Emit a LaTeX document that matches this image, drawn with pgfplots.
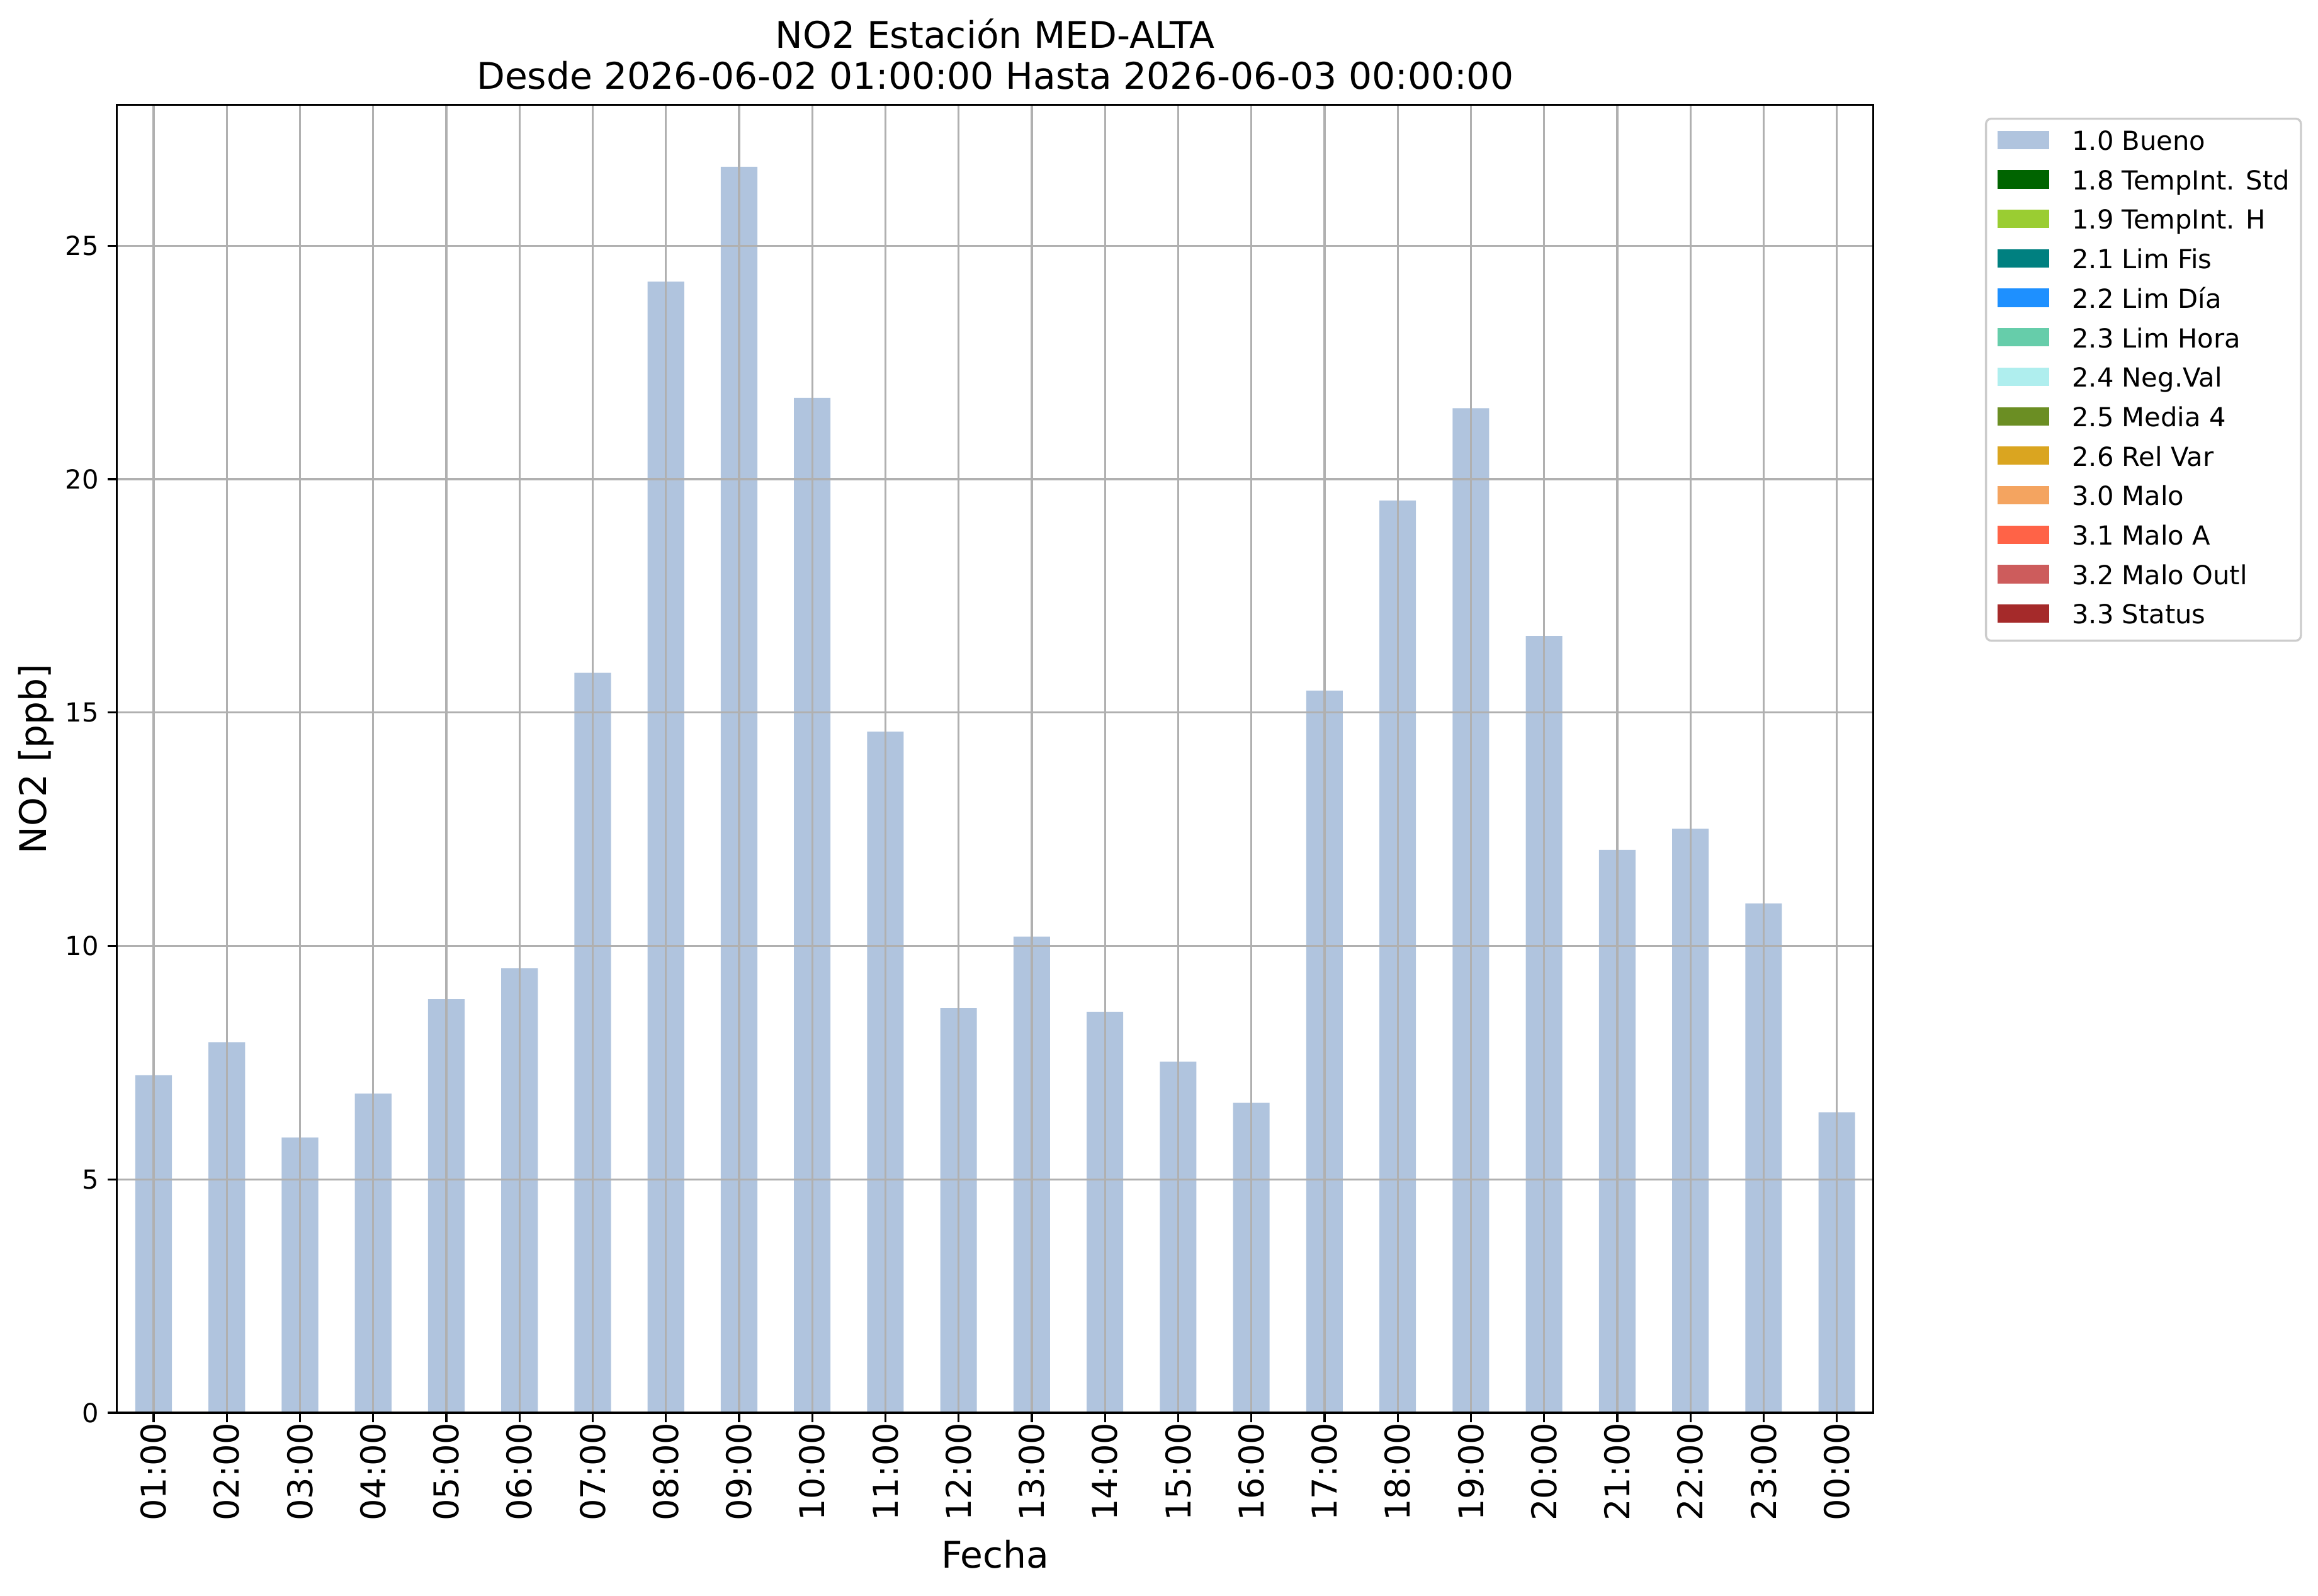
\documentclass[border=0pt]{standalone}
\usepackage{fontspec}
\setmainfont{DejaVu Sans}
\usepackage{pgfplots}
\pgfplotsset{compat=1.18}
\definecolor{barcol}{HTML}{B0C4DE}
\definecolor{gridcol}{HTML}{B0B0B0}
\definecolor{legcol}{HTML}{CCCCCC}
\definecolor{cA}{HTML}{006400}
\definecolor{cB}{HTML}{9ACD32}
\definecolor{cC}{HTML}{008080}
\definecolor{cD}{HTML}{1E90FF}
\definecolor{cE}{HTML}{66CDAA}
\definecolor{cF}{HTML}{AFEEEE}
\definecolor{cG}{HTML}{6B8E23}
\definecolor{cH}{HTML}{DAA520}
\definecolor{cI}{HTML}{F4A460}
\definecolor{cJ}{HTML}{FF6347}
\definecolor{cK}{HTML}{CD5C5C}
\definecolor{cL}{HTML}{A52A2A}
\pgfplotsset{
  patchleg/.style={legend image code/.code={\fill[##1,draw=none,sharp corners] (0pt,-2.4pt) rectangle (19.9pt,4.6pt);}}
}
\begin{document}
\begin{tikzpicture}
\path[use as bounding box] (0,0) rectangle (883.7pt,608.2pt);
\begin{axis}[
  at={(44.6pt,69.6pt)}, anchor=south west,
  scale only axis, width=669.6pt, height=498.7pt,
  clip=false,
  xmin=-0.5, xmax=23.5, ymin=0, ymax=28.02,
  xtick={0,...,23},
  xticklabels={01:00,02:00,03:00,04:00,05:00,06:00,07:00,08:00,09:00,10:00,11:00,12:00,13:00,14:00,15:00,16:00,17:00,18:00,19:00,20:00,21:00,22:00,23:00,00:00},
  ytick={0,5,10,15,20,25},
  /pgf/number format/assume math mode=true,
  grid=major,
  major grid style={color=gridcol, line width=0.8pt},
  axis line style={line width=0.8pt, black},
  major tick style={line width=0.8pt, black},
  major tick length=3.5pt, tick align=outside, tick pos=left,
  axis on top,
  xticklabel style={rotate=90, anchor=east, inner sep=0pt, font=\fontsize{13}{15}\selectfont},
  yticklabel style={font=\fontsize{10}{12}\selectfont},
  xlabel={Fecha},
  xlabel style={at={(axis description cs:0.5,-0.1187)}, anchor=base, font=\fontsize{14}{16}\selectfont},
  ylabel={NO2 [ppb]},
  ylabel style={at={(axis description cs:-0.0402,0.5)}, anchor=base, rotate=0, font=\fontsize{14}{16}\selectfont},
  legend style={at={(1.0635,0.9901)}, anchor=north west, draw=legcol, line width=0.8pt,
    rounded corners=2pt, fill=white, font=\fontsize{10}{12}\selectfont,
    inner xsep=4.3pt, inner ysep=4.3pt, row sep=5.25pt, column sep=8.6pt,
    nodes={inner sep=0pt, text height=7.7pt, text depth=2.1pt}},
  legend cell align=left,
]
\addplot[ybar, bar width=0.5, fill=barcol, draw=none, forget plot] coordinates {
(0,7.23) (1,7.94) (2,5.90) (3,6.84) (4,8.86) (5,9.52) (6,15.85) (7,24.23)
(8,26.69) (9,21.74) (10,14.59) (11,8.67) (12,10.20) (13,8.59) (14,7.52) (15,6.64)
(16,15.47) (17,19.54) (18,21.52) (19,16.64) (20,12.06) (21,12.51) (22,10.91) (23,6.44)
};
\addlegendimage{patchleg, fill=barcol}\addlegendentry{1.0 Bueno}
\addlegendimage{patchleg, fill=cA}\addlegendentry{1.8 TempInt. Std}
\addlegendimage{patchleg, fill=cB}\addlegendentry{1.9 TempInt. H}
\addlegendimage{patchleg, fill=cC}\addlegendentry{2.1 Lim Fis}
\addlegendimage{patchleg, fill=cD}\addlegendentry{2.2 Lim Día}
\addlegendimage{patchleg, fill=cE}\addlegendentry{2.3 Lim Hora}
\addlegendimage{patchleg, fill=cF}\addlegendentry{2.4 Neg.Val}
\addlegendimage{patchleg, fill=cG}\addlegendentry{2.5 Media 4}
\addlegendimage{patchleg, fill=cH}\addlegendentry{2.6 Rel Var}
\addlegendimage{patchleg, fill=cI}\addlegendentry{3.0 Malo}
\addlegendimage{patchleg, fill=cJ}\addlegendentry{3.1 Malo A}
\addlegendimage{patchleg, fill=cK}\addlegendentry{3.2 Malo Outl}
\addlegendimage{patchleg, fill=cL}\addlegendentry{3.3 Status}
\node[anchor=base, font=\fontsize{14}{16}\selectfont, yshift=21.6pt] at (rel axis cs:0.5,1) {NO2 Estación MED-ALTA};
\node[anchor=base, font=\fontsize{14}{16}\selectfont, yshift=6pt] at (rel axis cs:0.5,1) {Desde 2026-06-02 01:00:00 Hasta 2026-06-03 00:00:00};
\end{axis}
\end{tikzpicture}
\end{document}
